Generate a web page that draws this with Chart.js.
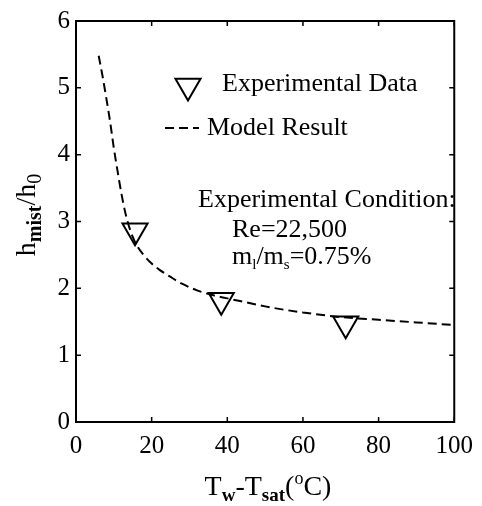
<!DOCTYPE html>
<html>
<head>
<meta charset="utf-8">
<script src="https://cdn.jsdelivr.net/npm/chart.js@4/dist/chart.umd.min.js"></script>
<style>
  html, body { margin: 0; padding: 0; background: #fff; }
  canvas { display: block; }
</style>
</head>
<body>
<canvas id="c" width="482" height="506"></canvas>
<script>
// Wall superheat (deg C) for the measured points and heat transfer ratio h_mist/h_0
const expSuperheat = [15.6, 38.4, 71.3];
const expRatio     = [2.86, 1.82, 1.47];

// Model prediction curve
const modelSuperheat = [6, 7, 8, 9, 10, 11, 12, 13, 14, 15, 16, 18, 20, 22, 25, 28, 32, 36, 40, 45, 50, 55, 60, 70, 80, 90, 100];
const modelRatio     = [5.48, 5.18, 4.85, 4.5, 4.1, 3.75, 3.42, 3.14, 2.93, 2.77, 2.65, 2.49, 2.37, 2.28, 2.17, 2.07, 1.97, 1.9, 1.85, 1.79, 1.73, 1.68, 1.64, 1.57, 1.53, 1.49, 1.45];

// Axis ticks
const xTicks = [0, 20, 40, 60, 80, 100];
const yTicks = [0, 1, 2, 3, 4, 5, 6];

const SERIF = '"Liberation Serif", "Times New Roman", serif';

function font(size, bold) {
  return (bold ? 'bold ' : '') + size + 'px ' + SERIF;
}

// Draws a run of text pieces with their own size, weight and vertical shift
function richWidth(ctx, parts) {
  let w = 0;
  for (const p of parts) { ctx.font = font(p.size, p.bold); w += ctx.measureText(p.t).width; }
  return w;
}
function drawRich(ctx, parts, x, y) {
  let cx = x;
  ctx.textBaseline = 'alphabetic';
  ctx.textAlign = 'left';
  for (const p of parts) {
    ctx.font = font(p.size, p.bold);
    ctx.fillText(p.t, cx, y + (p.dy || 0));
    cx += ctx.measureText(p.t).width;
  }
}

const decorations = {
  id: 'decorations',
  afterDatasetsDraw(chart) {
    const { ctx, chartArea: a, scales } = chart;
    const xs = scales.x, ys = scales.y;
    ctx.save();
    ctx.strokeStyle = '#000';
    ctx.fillStyle = '#000';

    // plot frame
    ctx.lineWidth = 2;
    ctx.strokeRect(a.left, a.top, a.right - a.left, a.bottom - a.top);

    // inward ticks on all four sides
    const tl = 5;
    ctx.lineWidth = 1.5;
    ctx.beginPath();
    xTicks.forEach(v => {
      const px = xs.getPixelForValue(v);
      ctx.moveTo(px, a.bottom); ctx.lineTo(px, a.bottom - tl);
      ctx.moveTo(px, a.top); ctx.lineTo(px, a.top + tl);
    });
    yTicks.forEach(v => {
      const py = ys.getPixelForValue(v);
      ctx.moveTo(a.left, py); ctx.lineTo(a.left + tl, py);
      ctx.moveTo(a.right, py); ctx.lineTo(a.right - tl, py);
    });
    ctx.stroke();

    // legend: open triangle marker and dashed line sample
    const pts = chart.data.datasets[1];
    const line = chart.data.datasets[0];
    ctx.fillStyle = 'rgba(0,0,0,0)';
    ctx.strokeStyle = '#000';
    ctx.lineWidth = pts.pointBorderWidth;
    Chart.helpers.drawPoint(ctx, {
      pointStyle: 'triangle', rotation: 180, radius: pts.pointRadius,
      borderWidth: pts.pointBorderWidth
    }, 188, 86);

    ctx.lineWidth = line.borderWidth;
    ctx.setLineDash(line.borderDash);
    ctx.beginPath();
    ctx.moveTo(165, 128); ctx.lineTo(199, 128);
    ctx.stroke();
    ctx.setLineDash([]);

    ctx.fillStyle = '#000';
    ctx.font = font(26);
    ctx.textBaseline = 'middle';
    ctx.textAlign = 'left';
    ctx.fillText('Experimental Data', 222, 84);
    ctx.fillText('Model Result', 207, 128);

    // test conditions
    ctx.fillText('Experimental Condition:', 198, 200);
    ctx.fillText('Re=22,500', 232, 230);
    drawRich(ctx, [
      { t: 'm', size: 26 }, { t: 'l', size: 15, dy: 5 },
      { t: '/m', size: 26 }, { t: 's', size: 15, dy: 5 },
      { t: '=0.75%', size: 26 }
    ], 232, 264);

    // x axis title
    const xt = [
      { t: 'T', size: 28 }, { t: 'w', size: 19, bold: true, dy: 6 },
      { t: '-T', size: 28 }, { t: 'sat', size: 19, bold: true, dy: 6 },
      { t: '(', size: 28 }, { t: 'o', size: 18, dy: -11 },
      { t: 'C)', size: 28 }
    ];
    const xw = richWidth(ctx, xt);
    drawRich(ctx, xt, 268 - xw / 2, 495);

    // y axis title
    const yt = [
      { t: 'h', size: 28 }, { t: 'mist', size: 20, bold: true, dy: 6 },
      { t: '/h', size: 28 }, { t: '0', size: 20, dy: 6 }
    ];
    const yw = richWidth(ctx, yt);
    ctx.translate(35, 215 + yw / 2);
    ctx.rotate(-Math.PI / 2);
    drawRich(ctx, yt, 0, 0);

    ctx.restore();
  }
};

new Chart(document.getElementById('c'), {
  type: 'scatter',
  data: {
    datasets: [
      {
        label: 'Model Result',
        data: modelSuperheat.map((x, i) => ({ x, y: modelRatio[i] })),
        showLine: true,
        borderColor: '#000',
        borderWidth: 2,
        borderDash: [9, 5],
        pointRadius: 0,
        cubicInterpolationMode: 'monotone',
        order: 2
      },
      {
        label: 'Experimental Data',
        data: expSuperheat.map((x, i) => ({ x, y: expRatio[i] })),
        pointStyle: 'triangle',
        rotation: 180,
        pointRadius: 14.5,
        pointHoverRadius: 14.5,
        pointBorderWidth: 2,
        pointBackgroundColor: 'rgba(0,0,0,0)',
        pointBorderColor: '#000',
        order: 1
      }
    ]
  },
  options: {
    responsive: false,
    devicePixelRatio: 1,
    animation: false,
    events: [],
    layout: { padding: { top: 14, right: 22, left: 0, bottom: 0 } },
    plugins: { legend: { display: false }, tooltip: { enabled: false } },
    scales: {
      x: {
        type: 'linear', min: 0, max: 100,
        afterFit(s) { s.height = 84; },
        afterBuildTicks(s) { s.ticks = xTicks.map(v => ({ value: v })); },
        grid: { display: false, drawTicks: false },
        border: { display: false },
        ticks: { color: '#000', font: { family: SERIF, size: 25 }, padding: 9, maxRotation: 0 }
      },
      y: {
        type: 'linear', min: 0, max: 6,
        afterFit(s) { s.width = 76; },
        afterBuildTicks(s) { s.ticks = yTicks.map(v => ({ value: v })); },
        grid: { display: false, drawTicks: false },
        border: { display: false },
        ticks: { color: '#000', font: { family: SERIF, size: 25 }, padding: 6 }
      }
    }
  },
  plugins: [decorations]
});
</script>
</body>
</html>
